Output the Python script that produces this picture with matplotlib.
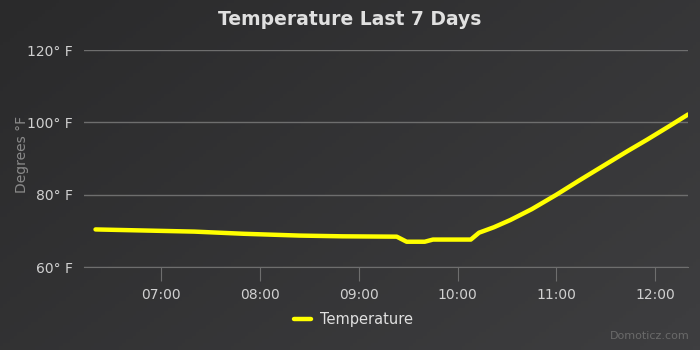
import numpy as np
import matplotlib
matplotlib.use("Agg")
import matplotlib.pyplot as plt
import matplotlib.dates as mdates
from datetime import datetime

# readings (time of day, degrees F)
times = ["06:20", "06:50", "07:20", "07:50", "08:24", "08:50", "09:23",
         "09:29", "09:40", "09:45", "10:08", "10:13", "10:22", "10:32", "10:45",
         "11:00", "11:13", "11:26", "11:43", "11:55", "12:08", "12:20"]
temps = [70.4, 70.1, 69.8, 69.2, 68.7, 68.5, 68.4,
         67.0, 67.0, 67.6, 67.6, 69.5, 71.0, 73.0, 76.0,
         80.0, 83.7, 87.3, 92.0, 95.2, 98.8, 102.2]
y_ticks = [60, 80, 100, 120]

x = [datetime.strptime("2024-01-01 " + t, "%Y-%m-%d %H:%M") for t in times]

fig = plt.figure(figsize=(7, 3.5), dpi=100)

# dark gradient background
bg = fig.add_axes([0, 0, 1, 1], zorder=-10)
gx, gy = np.meshgrid(np.linspace(0, 1, 200), np.linspace(0, 1, 100))
grad = (gx * 0.6 + gy * 0.4)
bg.imshow(grad, cmap=matplotlib.colors.LinearSegmentedColormap.from_list("bg", ["#2a2a2b", "#3e3e40"]),
          aspect="auto", extent=[0, 1, 0, 1], origin="upper")
bg.axis("off")

ax = fig.add_axes([0.12, 0.237, 0.863, 0.62])
ax.patch.set_alpha(0)
ax.plot(x, temps, color="#ffff00", lw=3.2, solid_capstyle="round", label="Temperature", zorder=3)

ax.set_ylim(60, 120)
ax.set_yticks(y_ticks)
ax.set_yticklabels([f"{v}° F" for v in y_ticks])
ax.set_xlim(datetime(2024, 1, 1, 6, 13), datetime(2024, 1, 1, 12, 20))
ax.xaxis.set_major_locator(mdates.HourLocator())
ax.xaxis.set_major_formatter(mdates.DateFormatter("%H:%M"))

ax.grid(axis="y", color="#6e6e6e", lw=1)
ax.set_axisbelow(True)
for s in ["top", "right", "left"]:
    ax.spines[s].set_visible(False)
ax.spines["bottom"].set_color("#6e6e6e")
ax.tick_params(axis="y", length=0, colors="#d0d0d0", labelsize=10, pad=8)
ax.tick_params(axis="x", length=10, color="#6e6e6e", colors="#d0d0d0", labelsize=10, pad=5)

fig.text(0.032, 0.56, "Degrees °F", rotation=90, ha="center", va="center",
         color="#8a8a8a", fontsize=10)

fig.text(0.5, 0.945, "Temperature Last 7 Days", ha="center", va="center",
         color="#e0e0e0", fontsize=13.5, fontweight="bold")

leg = fig.legend(loc="center", bbox_to_anchor=(0.505, 0.088), frameon=False,
                 fontsize=10.5, handlelength=1.2, handletextpad=0.6)
for t in leg.get_texts():
    t.set_color("#e0e0e0")

fig.text(0.985, 0.025, "Domoticz.com", ha="right", va="bottom", color="#6a6a6a", fontsize=8)

fig.savefig("out.png", dpi=100, facecolor="#2e2e2f")
